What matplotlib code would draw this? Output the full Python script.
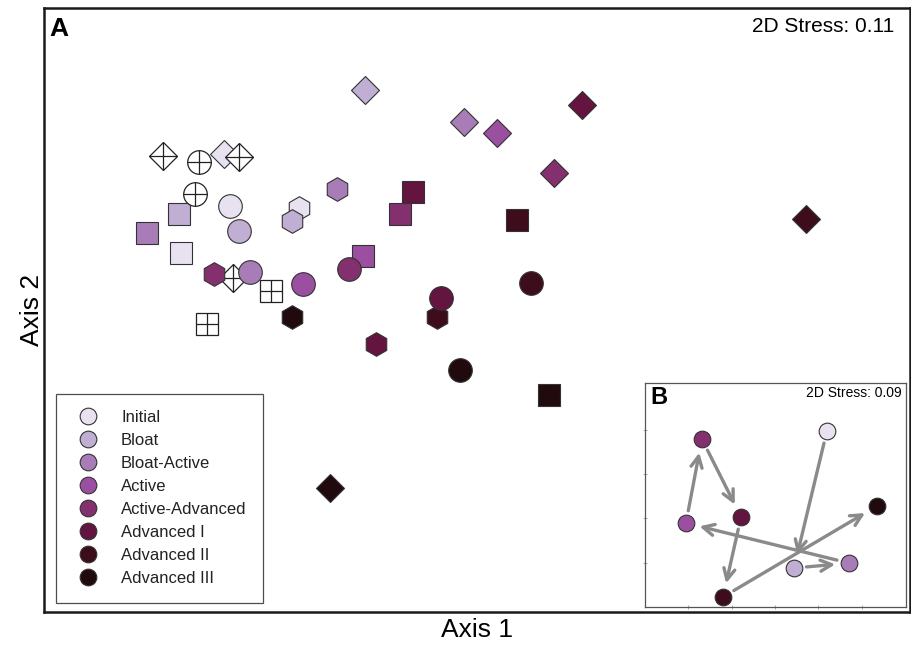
import matplotlib.pyplot as plt
from matplotlib.lines import Line2D

plt.rcParams['font.family'] = ['Liberation Sans', 'DejaVu Sans']

stages = ['Initial', 'Bloat', 'Bloat-Active', 'Active', 'Active-Advanced',
          'Advanced I', 'Advanced II', 'Advanced III']
colors = ['#e8e1ef', '#c0aed3', '#a87db7', '#9b4fa0', '#84306f',
          '#63143f', '#3e0d1c', '#200a0e']

# NMDS scores (panel A), one dict per carcass shape: stage -> (axis1, axis2)
diamond_pts = {'Initial': (20.8, 53.1), 'Bloat': (37.1, 60.5), 'Bloat-Active': (48.5, 56.8),
               'Active': (52.3, 55.5), 'Active-Advanced': (58.9, 50.9), 'Advanced I': (62.1, 58.8),
               'Advanced II': (88.0, 45.5), 'Advanced III': (33.0, 14.4)}
square_pts = {'Initial': (15.8, 41.6), 'Bloat': (15.6, 46.1), 'Bloat-Active': (11.9, 43.9),
              'Active': (36.8, 41.3), 'Active-Advanced': (41.1, 46.1), 'Advanced I': (42.6, 48.7),
              'Advanced II': (54.6, 45.4), 'Advanced III': (58.3, 25.1)}
hexagon_pts = {'Initial': (29.4, 46.8), 'Bloat': (28.6, 45.3), 'Bloat-Active': (33.8, 49.0),
               'Active-Advanced': (19.6, 39.2), 'Advanced I': (38.3, 31.1),
               'Advanced II': (45.4, 34.2), 'Advanced III': (28.6, 34.2)}
circle_pts = {'Initial': (21.5, 47.1), 'Bloat': (22.5, 44.2), 'Bloat-Active': (23.8, 39.4),
              'Active': (29.9, 38.0), 'Active-Advanced': (35.2, 39.7), 'Advanced I': (45.8, 36.4),
              'Advanced II': (56.2, 38.1), 'Advanced III': (48.0, 28.0)}

# control samples (white, crossed)
ctrl_diamond = [(13.7, 52.8), (22.5, 52.7), (21.8, 38.7)]
ctrl_square = [(26.2, 37.2), (18.8, 33.4)]
ctrl_circle = [(17.9, 52.1), (17.4, 48.4)]

# panel B: stage centroids
inset_pts = {'Initial': (69.7, 78.6), 'Bloat': (57.1, 17.4), 'Bloat-Active': (78.2, 19.6),
             'Active': (15.7, 37.5), 'Active-Advanced': (21.8, 75.0), 'Advanced I': (36.8, 40.2),
             'Advanced II': (29.9, 4.5), 'Advanced III': (88.9, 45.1)}

cmap = dict(zip(stages, colors))

fig = plt.figure(figsize=(9.11, 6.45), dpi=100)
ax = fig.add_axes([0.0483, 0.0512, 0.9506, 0.9364])
ax.set_xlim(0, 100)
ax.set_ylim(0, 70)


def draw_group(pts, marker, ms):
    for st, (x, y) in pts.items():
        ax.plot(x, y, marker=marker, ms=ms, mfc=cmap[st], mec='#333333', mew=0.8, ls='none')


def draw_ctrl(pts, marker, ms, cross):
    for x, y in pts:
        ax.plot(x, y, marker=marker, ms=ms, mfc='white', mec='#222222', mew=0.9, ls='none')
        ax.plot(x, y, marker='+', ms=cross, mec='#222222', mew=0.9, ls='none')


draw_group(diamond_pts, 'D', 14.5)
draw_ctrl(ctrl_diamond, 'D', 14.5, 14.5 * 1.41)
draw_group(square_pts, 's', 15.5)
draw_ctrl(ctrl_square, 's', 15.5, 15.5)
draw_group(hexagon_pts, 'h', 17)
draw_group(circle_pts, 'o', 17)
draw_ctrl(ctrl_circle, 'o', 17, 17)

ax.set_xticks([])
ax.set_yticks([])
for s in ax.spines.values():
    s.set_linewidth(1.8)
    s.set_color('#1a1a1a')
ax.set_xlabel('Axis 1', fontsize=19, labelpad=4)
ax.set_ylabel('Axis 2', fontsize=19, labelpad=0)
ax.text(0.006, 0.985, 'A', transform=ax.transAxes, fontsize=19, fontweight='bold', va='top')
ax.text(0.982, 0.985, '2D Stress: 0.11', transform=ax.transAxes, fontsize=15, va='top', ha='right')

handles = [Line2D([], [], marker='o', ls='none', ms=12, mfc=c, mec='#333333', mew=0.8)
           for c in colors]
leg = ax.legend(handles, stages, loc='lower left', bbox_to_anchor=(0.0139, 0.0149),
                fontsize=12, frameon=True, fancybox=False, edgecolor='#222222',
                labelspacing=0.48, handletextpad=1.1, borderpad=1.0, borderaxespad=0,
                handlelength=1.8)
leg.get_frame().set_linewidth(0.9)
for t in leg.get_texts():
    t.set_color('#222222')

# panel B
axb = fig.add_axes([0.708, 0.0589, 0.2865, 0.3473])
axb.set_xlim(0, 100)
axb.set_ylim(0, 100)
order = stages
for a, b in zip(order[:-1], order[1:]):
    axb.annotate('', xy=inset_pts[b], xytext=inset_pts[a],
                 arrowprops=dict(arrowstyle='->,head_length=0.8,head_width=0.4',
                                 color='#8a8a8a', lw=2.4, shrinkA=9, shrinkB=10))
for st, (x, y) in inset_pts.items():
    axb.plot(x, y, marker='o', ms=12, mfc=cmap[st], mec='#333333', mew=0.8, ls='none', zorder=3)
axb.set_xticks([16.5, 33.3, 49.8, 66.3, 83.1])
axb.set_yticks([19.6, 39.7, 59.4, 79.0])
axb.set_xticklabels([])
axb.set_yticklabels([])
axb.tick_params(length=3, width=0.6, color='#999999', direction='inout')
for s in axb.spines.values():
    s.set_linewidth(0.9)
    s.set_color('#555555')
axb.text(0.02, 0.985, 'B', transform=axb.transAxes, fontsize=17, fontweight='bold', va='top')
axb.text(0.985, 0.985, '2D Stress: 0.09', transform=axb.transAxes, fontsize=10, va='top', ha='right')

fig.savefig('out.png', dpi=100)
